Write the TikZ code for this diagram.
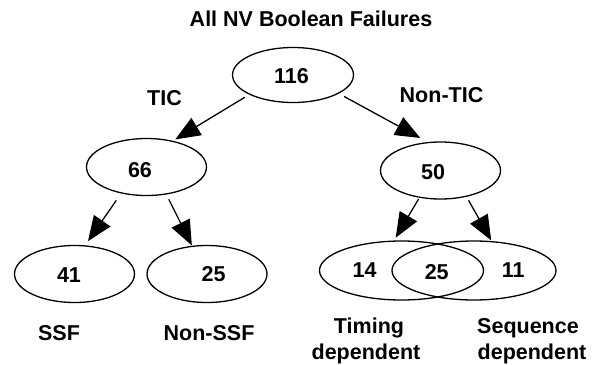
\documentclass[tikz,border=0pt]{standalone}
\usepackage{fontspec}
\setmainfont{Liberation Sans}
\usetikzlibrary{shapes.geometric,arrows.meta}
\begin{document}
\begin{tikzpicture}[x=1pt,y=-1pt,
  ell/.style={draw, ellipse, line width=1.3pt, inner sep=0pt, outer sep=0pt},
  small/.style={ell, minimum width=120pt, minimum height=57pt},
  big/.style={ell, minimum width=164pt, minimum height=59pt},
  lbl/.style={font=\fontsize{21.5}{26}\selectfont\bfseries, inner sep=0pt, anchor=base},
  arr/.style={line width=1.3pt, -{Triangle[length=25pt,width=20pt]}}]
\fill[white, use as bounding box] (0,0) rectangle (596,364);

% title
\node[lbl] (title) at (311,26) {All NV Boolean Failures};

% ellipses
\node[ell, minimum width=121pt, minimum height=55pt] (e116) at (293,75) {};
\node[small] (e66) at (146.5,167) {};
\node[small] (e50) at (440.5,170.5) {};
\node[small] (e41) at (74.5,274) {};
\node[small] (e25) at (207,274) {};
\node[big] (etim) at (401.5,270.5) {};
\node[big] (eseq) at (474,270.5) {};

% numbers
\node[lbl] (t116) at (291.5,83) {116};
\node[lbl] (t66) at (140,177) {66};
\node[lbl] (t50) at (433,179) {50};
\node[lbl] (t41) at (69,282) {41};
\node[lbl] (t25) at (213.5,281) {25};
\node[lbl] (t14) at (364.7,277) {14};
\node[lbl] (tboth) at (436.7,279) {25};
\node[lbl] (t11) at (513.3,277) {11};

% branch labels
\node[lbl] (tic) at (164.5,105) {TIC};
\node[lbl] (ntic) at (441.5,102) {Non-TIC};
\node[lbl] (ssf) at (59,340) {SSF};
\node[lbl] (nssf) at (209,340) {Non-SSF};
\node[lbl] (tim1) at (369,333) {Timing};
\node[lbl] (tim2) at (366,359) {dependent};
\node[lbl] (seq1) at (528,333) {Sequence};
\node[lbl] (seq2) at (532,359) {dependent};

% arrows
\draw[arr, shorten <=5.8pt, shorten >=3.5pt] (e116.204) -- (e66.45);
\draw[arr, shorten <=6.7pt, shorten >=9.5pt] (e116.338) -- (e50.113);
\draw[arr, shorten <=9.1pt, shorten >=5.7pt] (e66.226) -- (e41.70);
\draw[arr, shorten <=6pt, shorten >=1pt] (e66.306) -- (e25.118);
\draw[arr, shorten <=2.1pt, shorten >=4pt] (e50.232) -- (etim.105);
\draw[arr, shorten <=4.7pt, shorten >=1.5pt] (e50.315) -- (eseq.58);
\end{tikzpicture}
\end{document}
